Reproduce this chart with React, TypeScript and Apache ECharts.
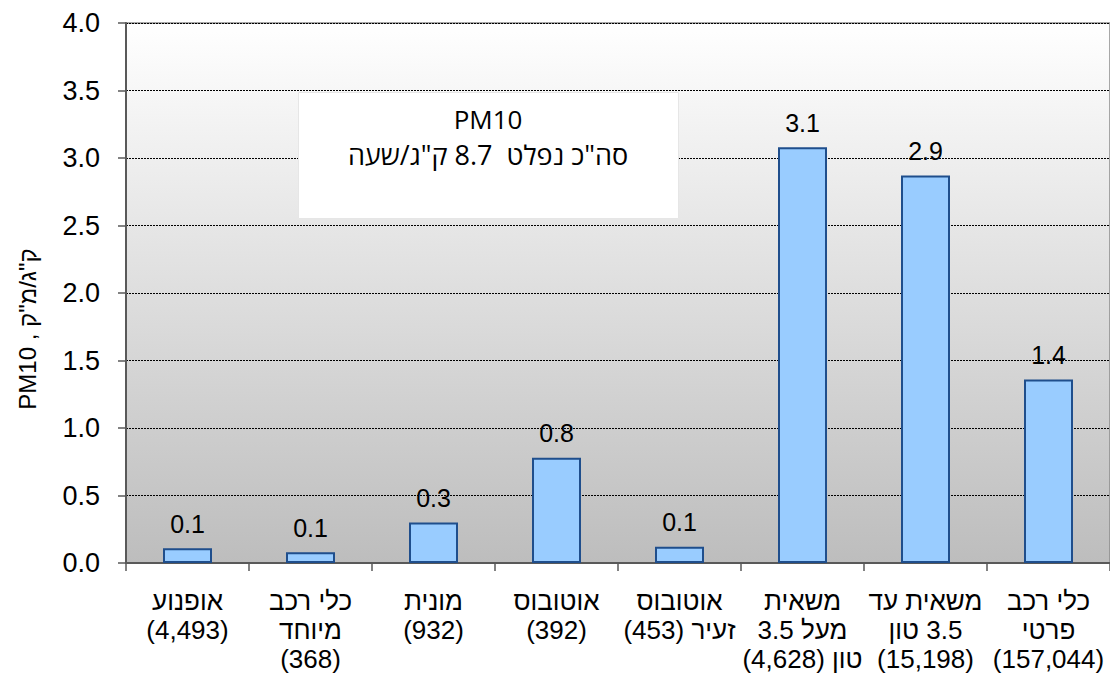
import React, { useEffect, useRef } from "react";
import * as echarts from "echarts";

const categories: string[] = [
  "אופנוע\n(4,493)",
  "כלי רכב\nמיוחד\n(368)",
  "מונית\n(932)",
  "אוטובוס\n(392)",
  "אוטובוס\nזעיר (453)",
  "משאית\nמעל 3.5\nטון (4,628)",
  "משאית עד\n3.5 טון\n(15,198)",
  "כלי רכב\nפרטי\n(157,044)",
];
const pm10Values: number[] = [0.11, 0.08, 0.3, 0.78, 0.12, 3.08, 2.87, 1.36];
const yTicks: number[] = [0, 0.5, 1, 1.5, 2, 2.5, 3, 3.5, 4];
const yAxisTitle = "PM10 , ק\"ג/מ\"ק";
const noteLine1 = "PM10";
const noteLine2 = "סה\"כ נפלט  8.7 ק\"ג/שעה";

const RLE = "\u202B";
const PDF = "\u202C";
const rtl = (s: string) =>
  s
    .split("\n")
    .map((l) => RLE + l + PDF)
    .join("\n");

export default function App() {
  const ref = useRef<HTMLDivElement>(null);
  useEffect(() => {
    if (!ref.current) return;
    const chart = echarts.init(ref.current, undefined, { renderer: "svg" });
    const font = "'Liberation Sans', Arial, sans-serif";
    chart.setOption({
      animation: false,
      backgroundColor: "#ffffff",
      grid: {
        left: 126,
        top: 23,
        right: 0,
        bottom: 111,
        show: true,
        borderColor: "#8c8c8c",
        borderWidth: 1.5,
        backgroundColor: new echarts.graphic.LinearGradient(0, 0, 0, 1, [
          { offset: 0, color: "#ffffff" },
          { offset: 1, color: "#bdbdbd" },
        ]),
      },
      xAxis: {
        type: "category",
        data: categories,
        axisLine: { show: true, lineStyle: { color: "#595959", width: 2 } },
        axisTick: {
          show: true,
          alignWithLabel: false,
          length: 8,
          lineStyle: { color: "#595959", width: 1.5 },
        },
        axisLabel: {
          interval: 0,
          margin: 23,
          color: "#000",
          fontFamily: font,
          fontSize: 26,
          lineHeight: 29,
          align: "center",
          formatter: (v: string) => rtl(v),
        },
        splitLine: { show: false },
      },
      yAxis: {
        type: "value",
        min: yTicks[0],
        max: yTicks[yTicks.length - 1],
        interval: 0.5,
        axisLine: { show: true, lineStyle: { color: "#595959", width: 2 } },
        axisTick: {
          show: true,
          length: 8,
          lineStyle: { color: "#595959", width: 1.5 },
        },
        axisLabel: {
          margin: 26,
          color: "#000",
          fontFamily: font,
          fontSize: 27,
          formatter: (v: number) => v.toFixed(1),
        },
        splitLine: {
          show: true,
          lineStyle: { color: "#000", width: 1, type: [2, 1] },
        },
      },
      series: [
        {
          type: "bar",
          data: pm10Values,
          barWidth: 49,
          itemStyle: {
            color: "#99ccff",
            borderColor: "#1f4e8c",
            borderWidth: 2,
          },
          label: {
            show: true,
            position: "top",
            distance: 12,
            color: "#000",
            fontFamily: font,
            fontSize: 25,
            fontWeight: "normal",
            formatter: (p: any) => Number(p.value).toFixed(1),
          },
        },
      ],
      graphic: [
        {
          type: "rect",
          left: 298,
          top: 92,
          shape: { width: 380, height: 126 },
          style: { fill: "#ffffff", stroke: "#e6e6e6", lineWidth: 1 },
          z: 10,
        },
        {
          type: "text",
          x: 488,
          y: 119,
          z: 11,
          style: {
            text: noteLine1,
            fill: "#000",
            font: "26px 'Open Sans', 'Liberation Sans', sans-serif",
            align: "center",
            verticalAlign: "middle",
          },
        },
        {
          type: "text",
          x: 488,
          y: 154,
          z: 11,
          style: {
            text: RLE + noteLine2 + PDF,
            fill: "#000",
            font: "27px 'Open Sans', 'Liberation Sans', sans-serif",
            align: "center",
            verticalAlign: "middle",
          },
        },
        {
          type: "text",
          x: 27,
          y: 329,
          rotation: Math.PI / 2,
          z: 11,
          style: {
            text: yAxisTitle,
            fill: "#000",
            font: "24px 'Liberation Sans', Arial, sans-serif",
            align: "center",
            verticalAlign: "middle",
          },
        },
      ],
    });
    return () => chart.dispose();
  }, []);
  return (
    <div
      ref={ref}
      style={{ position: "fixed", left: 0, top: 0, width: 1110, height: 674 }}
    />
  );
}
